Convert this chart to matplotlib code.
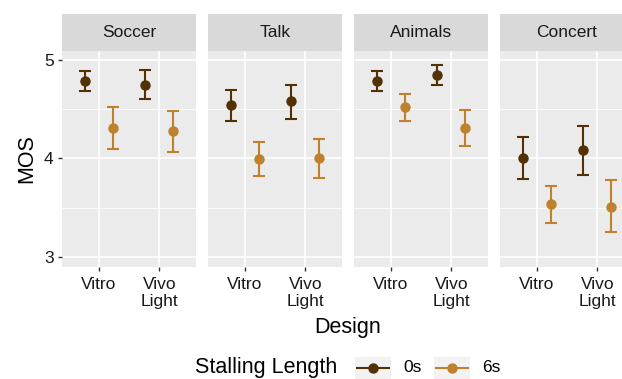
import numpy as np
import matplotlib.pyplot as plt
from matplotlib.lines import Line2D
from matplotlib.patches import Rectangle

plt.rcParams['font.family'] = ['Liberation Sans', 'DejaVu Sans']

# Data
videos = ["Soccer", "Talk", "Animals", "Concert"]
designs = ["Vitro", "Vivo\nLight"]
lengths = ["0s", "6s"]
colors = ["#543005", "#BF812D"]

# mean MOS per video, per design
mos_0s = [[4.79, 4.75], [4.54, 4.58], [4.79, 4.85], [4.00, 4.08]]
mos_6s = [[4.31, 4.28], [3.99, 4.00], [4.52, 4.31], [3.54, 3.51]]
# confidence interval bounds
low_0s = [[4.685, 4.603], [4.383, 4.397], [4.688, 4.742], [3.786, 3.831]]
high_0s = [[4.888, 4.895], [4.698, 4.749], [4.888, 4.953], [4.217, 4.329]]
low_6s = [[4.098, 4.068], [3.820, 3.800], [4.376, 4.122], [3.346, 3.251]]
high_6s = [[4.519, 4.481], [4.163, 4.200], [4.651, 4.492], [3.722, 3.776]]

means = [mos_0s, mos_6s]
lows = [low_0s, low_6s]
highs = [high_0s, high_6s]

W, H = 622, 379
fig = plt.figure(figsize=(W / 100, H / 100), dpi=100)

panel_left = [62, 208, 354, 500]
panel_w = 134
top, bottom = 51, 267
strip_top = 14
dodge = [-0.23, 0.23]
x = np.arange(1, len(designs) + 1)

for i, video in enumerate(videos):
    ax = fig.add_axes([panel_left[i] / W, 1 - bottom / H, panel_w / W, (bottom - top) / H])
    ax.set_facecolor("#EBEBEB")
    for s in ax.spines.values():
        s.set_visible(False)
    ax.set_xlim(0.4, 2.6)
    ax.set_ylim(2.895, 5.092)
    # grid
    for yv in [3, 4, 5]:
        ax.axhline(yv, color="white", lw=1.2, zorder=0)
    for yv in [3.5, 4.5]:
        ax.axhline(yv, color="white", lw=0.6, zorder=0)
    for xv in x:
        ax.axvline(xv, color="white", lw=1.2, zorder=0)

    for k in range(len(lengths)):
        m = np.array(means[k][i])
        lo = np.array(lows[k][i])
        hi = np.array(highs[k][i])
        ax.errorbar(x + dodge[k], m, yerr=[m - lo, hi - m], fmt="none",
                    ecolor=colors[k], elinewidth=1.5, capsize=4, capthick=1.5, zorder=2)
        ax.plot(x + dodge[k], m, "o", color=colors[k], ms=6.5, zorder=3)

    ax.set_xticks(x)
    ax.set_xticklabels(designs, fontsize=12.5, color="#1A1A1A", linespacing=1.2)
    ax.tick_params(axis="x", length=3, width=1, color="#333333", pad=4)
    ax.set_yticks([3, 4, 5])
    if i == 0:
        ax.set_yticklabels(["3", "4", "5"], fontsize=12.5, color="#1A1A1A")
        ax.tick_params(axis="y", length=3, width=1, color="#333333", pad=3)
        ax.set_ylabel("MOS", fontsize=15.5, labelpad=5)
    else:
        ax.tick_params(axis="y", length=0, labelleft=False)

    sax = fig.add_axes([panel_left[i] / W, 1 - top / H, panel_w / W, (top - strip_top) / H])
    sax.set_facecolor("#D9D9D9")
    sax.set_xticks([])
    sax.set_yticks([])
    for s in sax.spines.values():
        s.set_visible(False)
    sax.text(0.5, 0.5, video, ha="center", va="center", fontsize=12.5, color="#1A1A1A",
             transform=sax.transAxes)

center = (62 + 634) / 2
fig.text(center / W, 1 - 328 / H, "Design", ha="center", va="center", fontsize=15.5)

# legend
ly = 1 - 368 / H
fig.text(195 / W, ly, "Stalling Length", ha="left", va="center", fontsize=15.5)
key_x = [355, 434]
for k, lab in enumerate(lengths):
    kx = key_x[k]
    fig.patches.append(Rectangle((kx / W, 1 - 380 / H), 36 / W, 23 / H,
                                 transform=fig.transFigure, facecolor="#F2F2F2",
                                 edgecolor="none"))
    fig.lines.append(Line2D([(kx + 2) / W, (kx + 34) / W], [ly, ly],
                            transform=fig.transFigure, color=colors[k], lw=1.5))
    fig.lines.append(Line2D([(kx + 18) / W], [ly], transform=fig.transFigure,
                            marker="o", ms=6.5, color=colors[k]))
    fig.text((kx + 48) / W, ly, lab, ha="left", va="center", fontsize=12.5)

fig.savefig("out.png", dpi=100)
